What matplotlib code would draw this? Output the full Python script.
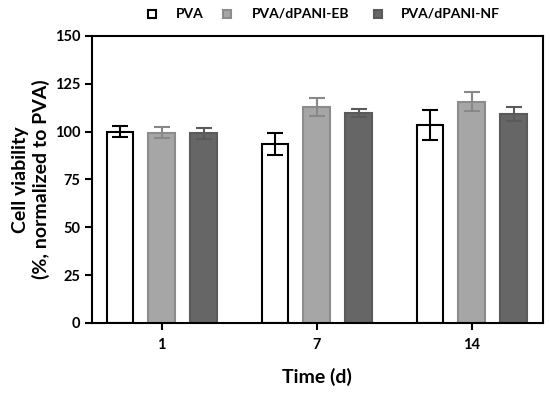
import numpy as np
import matplotlib.pyplot as plt
from matplotlib.patches import Rectangle

# data
days = ['1', '7', '14']
series = ['PVA', 'PVA/dPANI-EB', 'PVA/dPANI-NF']
pva = [100.0, 93.6, 103.5]
pva_err = [2.8, 5.6, 7.7]
eb = [99.5, 112.7, 115.7]
eb_err = [3.0, 4.7, 4.9]
nf = [99.2, 109.6, 109.2]
nf_err = [2.9, 2.1, 3.5]

plt.rcParams['font.family'] = ['Lato', 'DejaVu Sans']
plt.rcParams['font.weight'] = 'bold'

W, H = 550, 393
fig = plt.figure(figsize=(5.5, 3.93), dpi=100)
ax = fig.add_axes([92 / W, 1 - 323 / H, 451 / W, 287 / H])

x = np.arange(len(days))
w = 0.172
off = 0.27
styles = [
    (pva, pva_err, 'white', 'black', 'black'),
    (eb, eb_err, '#a6a6a6', '#8c8c8c', '#888888'),
    (nf, nf_err, '#666666', '#5a5a5a', '#5a5a5a'),
]
for i, (vals, errs, fc, ec, errc) in enumerate(styles):
    pos = x + (i - 1) * off
    ax.bar(pos, vals, w, color=fc, edgecolor=ec, linewidth=1.5,
           label=series[i], zorder=2)
    ax.errorbar(pos, vals, yerr=errs, fmt='none', ecolor=errc,
                elinewidth=1.5, capsize=6, capthick=1.5, zorder=3)

ax.set_xlim(-0.45, 2.46)
ax.set_ylim(0, 150)
ax.set_yticks([0, 25, 50, 75, 100, 125, 150])
ax.set_xticks(x)
ax.set_xticklabels(days)
for s in ax.spines.values():
    s.set_linewidth(1.5)
ax.tick_params(width=1.5, length=5, labelsize=10.5, direction='out')
ax.tick_params(axis='x', pad=6)
ax.set_xlabel('Time (d)', fontsize=14, fontweight='bold')
ax.xaxis.set_label_coords(0.499, -0.155)
ax.set_ylabel('Cell viability\n(%, normalized to PVA)', fontsize=14,
              fontweight='bold', linespacing=1.2)
ax.yaxis.set_label_coords(-0.093, 0.5)

# legend drawn by hand: square + label, uneven spacing as in the reference
sq_x = [148, 223, 374]
txt_x = [176, 252, 401]
for (_, _, fc, ec, _), lab, sx, tx in zip(styles, series, sq_x, txt_x):
    fig.add_artist(Rectangle((sx / W, 1 - 18 / H), 8 / W, 8 / H,
                             transform=fig.transFigure, facecolor=fc,
                             edgecolor=ec, linewidth=1.5))
    fig.text(tx / W, 1 - 14 / H, lab, fontsize=10, fontweight='bold',
             ha='left', va='center')

fig.savefig('out.png', dpi=100)
